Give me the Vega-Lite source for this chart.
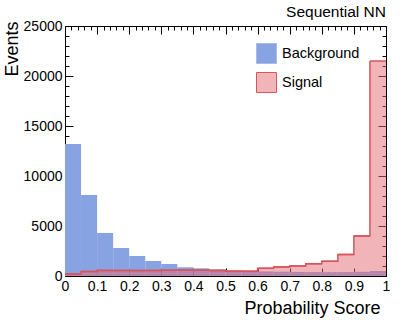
{
  "$schema": "https://vega.github.io/schema/vega-lite/v6.json",
  "width": 321,
  "height": 250,
  "autosize": {"type": "none"},
  "padding": {"left": 65, "top": 26, "right": 21, "bottom": 46},
  "background": "white",
  "config": {
    "font": "Liberation Sans",
    "view": {"stroke": null},
    "axis": {"domainColor": "black", "tickColor": "black", "labelColor": "black", "titleColor": "black", "labelFont": "Liberation Sans", "titleFont": "Liberation Sans", "grid": false, "titleFontWeight": "normal"}
  },
  "title": {"text": "Sequential NN", "anchor": "end", "frame": "group", "fontSize": 15.5, "fontWeight": "normal", "baseline": "alphabetic", "offset": -13, "color": "black", "font": "Liberation Sans"},
  "data": {"values": [
    {"series": "Background", "lo": 0.00, "hi": 0.05, "events": 13200},
    {"series": "Background", "lo": 0.05, "hi": 0.10, "events": 8100},
    {"series": "Background", "lo": 0.10, "hi": 0.15, "events": 4300},
    {"series": "Background", "lo": 0.15, "hi": 0.20, "events": 2800},
    {"series": "Background", "lo": 0.20, "hi": 0.25, "events": 2000},
    {"series": "Background", "lo": 0.25, "hi": 0.30, "events": 1500},
    {"series": "Background", "lo": 0.30, "hi": 0.35, "events": 1200},
    {"series": "Background", "lo": 0.35, "hi": 0.40, "events": 870},
    {"series": "Background", "lo": 0.40, "hi": 0.45, "events": 770},
    {"series": "Background", "lo": 0.45, "hi": 0.50, "events": 670},
    {"series": "Background", "lo": 0.50, "hi": 0.55, "events": 560},
    {"series": "Background", "lo": 0.55, "hi": 0.60, "events": 500},
    {"series": "Background", "lo": 0.60, "hi": 0.65, "events": 460},
    {"series": "Background", "lo": 0.65, "hi": 0.70, "events": 430},
    {"series": "Background", "lo": 0.70, "hi": 0.75, "events": 400},
    {"series": "Background", "lo": 0.75, "hi": 0.80, "events": 390},
    {"series": "Background", "lo": 0.80, "hi": 0.85, "events": 380},
    {"series": "Background", "lo": 0.85, "hi": 0.90, "events": 390},
    {"series": "Background", "lo": 0.90, "hi": 0.95, "events": 420},
    {"series": "Background", "lo": 0.95, "hi": 1.00, "events": 500},
    {"series": "Signal", "lo": 0.00, "hi": 0.05, "events": 200},
    {"series": "Signal", "lo": 0.05, "hi": 0.10, "events": 450},
    {"series": "Signal", "lo": 0.10, "hi": 0.15, "events": 560},
    {"series": "Signal", "lo": 0.15, "hi": 0.20, "events": 550},
    {"series": "Signal", "lo": 0.20, "hi": 0.25, "events": 540},
    {"series": "Signal", "lo": 0.25, "hi": 0.30, "events": 550},
    {"series": "Signal", "lo": 0.30, "hi": 0.35, "events": 570},
    {"series": "Signal", "lo": 0.35, "hi": 0.40, "events": 600},
    {"series": "Signal", "lo": 0.40, "hi": 0.45, "events": 580},
    {"series": "Signal", "lo": 0.45, "hi": 0.50, "events": 550},
    {"series": "Signal", "lo": 0.50, "hi": 0.55, "events": 480},
    {"series": "Signal", "lo": 0.55, "hi": 0.60, "events": 480},
    {"series": "Signal", "lo": 0.60, "hi": 0.65, "events": 770},
    {"series": "Signal", "lo": 0.65, "hi": 0.70, "events": 900},
    {"series": "Signal", "lo": 0.70, "hi": 0.75, "events": 1000},
    {"series": "Signal", "lo": 0.75, "hi": 0.80, "events": 1230},
    {"series": "Signal", "lo": 0.80, "hi": 0.85, "events": 1470},
    {"series": "Signal", "lo": 0.85, "hi": 0.90, "events": 2150},
    {"series": "Signal", "lo": 0.90, "hi": 0.95, "events": 4000},
    {"series": "Signal", "lo": 0.95, "hi": 1.00, "events": 21500}
  ]},
  "layer": [
    {
      "mark": {"type": "rect"},
      "encoding": {
        "x": {"field": "lo", "type": "quantitative", "scale": {"domain": [0, 1], "nice": false, "zero": false},
          "axis": {"orient": "bottom", "values": [0,0.02,0.04,0.06,0.08,0.1,0.12,0.14,0.16,0.18,0.2,0.22,0.24,0.26,0.28,0.3,0.32,0.34,0.36,0.38,0.4,0.42,0.44,0.46,0.48,0.5,0.52,0.54,0.56,0.58,0.6,0.62,0.64,0.66,0.68,0.7,0.72,0.74,0.76,0.78,0.8,0.82,0.84,0.86,0.88,0.9,0.92,0.94,0.96,0.98,1],
            "format": "~g", "labelExpr": "abs(datum.value*10 - round(datum.value*10)) < 0.001 ? datum.label : ''",
            "labelFontSize": 14, "labelPadding": 11, "labelOverlap": false, "labelFlush": false,
            "tickSize": {"condition": {"test": "abs(datum.value*10 - round(datum.value*10)) < 0.001", "value": -8}, "value": -4},
            "title": "Probability Score", "titleFontSize": 18, "titleAlign": "right", "titleBaseline": "alphabetic", "titleX": 315, "titleY": 37}},
        "x2": {"field": "hi"},
        "y": {"field": "events", "type": "quantitative", "scale": {"domain": [0, 25000], "nice": false},
          "axis": {"orient": "left", "values": [0,1000,2000,3000,4000,5000,6000,7000,8000,9000,10000,11000,12000,13000,14000,15000,16000,17000,18000,19000,20000,21000,22000,23000,24000,25000],
            "format": "d", "labelExpr": "datum.value % 5000 == 0 ? datum.label : ''",
            "labelFontSize": 14, "labelPadding": 11, "labelOverlap": false, "labelFlush": false,
            "tickSize": {"condition": {"test": "datum.value % 5000 == 0", "value": -8}, "value": -4},
            "title": "Events", "titleFontSize": 18, "titleAngle": -90, "titleAlign": "right", "titleBaseline": "alphabetic", "titleX": -48, "titleY": -5}},
        "y2": {"datum": 0},
        "color": {"field": "series", "type": "nominal",
          "scale": {"domain": ["Background", "Signal"], "range": ["#88a3e2", "rgba(227,108,116,0.5)"]},
          "legend": {"orient": "none", "legendX": 191, "legendY": 17, "title": null, "symbolType": "square", "symbolSize": 400,
            "labelFontSize": 14.5, "labelFont": "Liberation Sans", "labelColor": "black", "labelOffset": 5, "rowPadding": 4, "padding": 0,
            "symbolStrokeWidth": 1,
            "encode": {"symbols": {"update": {"stroke": {"signal": "datum.value == 'Signal' ? '#d9545c' : '#a9bbe9'"}}}}}}
      }
    },
    {
      "transform": [{"filter": "datum.series == 'Signal'"}],
      "mark": {"type": "rule", "color": "#d9545c", "strokeWidth": 1.5},
      "encoding": {
        "x": {"field": "lo", "type": "quantitative",
          "axis": {"orient": "top", "values": [0,0.02,0.04,0.06,0.08,0.1,0.12,0.14,0.16,0.18,0.2,0.22,0.24,0.26,0.28,0.3,0.32,0.34,0.36,0.38,0.4,0.42,0.44,0.46,0.48,0.5,0.52,0.54,0.56,0.58,0.6,0.62,0.64,0.66,0.68,0.7,0.72,0.74,0.76,0.78,0.8,0.82,0.84,0.86,0.88,0.9,0.92,0.94,0.96,0.98,1],
            "labels": false, "title": null,
            "tickSize": {"condition": {"test": "abs(datum.value*10 - round(datum.value*10)) < 0.001", "value": -8}, "value": -4}}},
        "x2": {"field": "hi"},
        "y": {"field": "events", "type": "quantitative",
          "axis": {"orient": "right", "values": [0,1000,2000,3000,4000,5000,6000,7000,8000,9000,10000,11000,12000,13000,14000,15000,16000,17000,18000,19000,20000,21000,22000,23000,24000,25000],
            "labels": false, "title": null,
            "tickSize": {"condition": {"test": "datum.value % 5000 == 0", "value": -8}, "value": -4}}}
      }
    },
    {
      "transform": [{"filter": "datum.series == 'Signal'"}],
      "mark": {"type": "line", "interpolate": "step-after", "color": "#d9545c", "strokeWidth": 1.5},
      "encoding": {
        "x": {"field": "lo", "type": "quantitative", "axis": null},
        "y": {"field": "events", "type": "quantitative", "axis": null}
      }
    }
  ],
  "resolve": {"axis": {"x": "independent", "y": "independent"}}
}
